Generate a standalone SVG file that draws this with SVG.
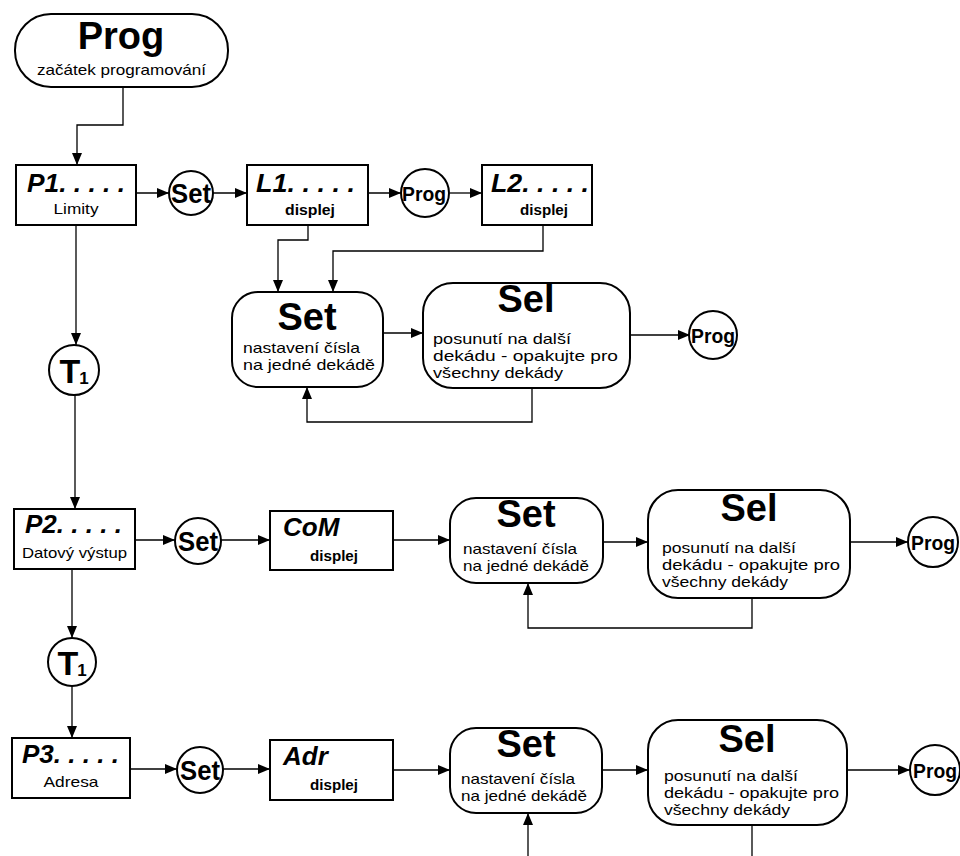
<svg xmlns="http://www.w3.org/2000/svg" width="960" height="856" viewBox="0 0 960 856">
<style>
text{font-family:"Liberation Sans",Arial,sans-serif;fill:#000}
.box{fill:#fff;stroke:#000;stroke-width:2}
.ln{fill:none;stroke:#000;stroke-width:1.3}
.big{font-weight:bold;font-size:38px;text-anchor:middle}
.ttl{font-weight:bold;font-style:italic;font-size:26px}
.sm{font-size:14.5px}
.smc{font-size:15px;text-anchor:middle}
.smb{font-size:15px;font-weight:bold;text-anchor:middle}
.cir{font-weight:bold;font-size:28px;text-anchor:middle}
.cirp{font-weight:bold;font-size:21px;text-anchor:middle}
</style>
<defs>
<marker id="a" markerUnits="userSpaceOnUse" markerWidth="13" markerHeight="11" refX="12" refY="5" orient="auto">
<path d="M0,0 L12,5 L0,10 z" fill="#000"/>
</marker>
</defs>
<rect width="960" height="856" fill="#fff"/>
<g id="connectors" class="ln" marker-end="url(#a)">
<polyline points="123,87 123,125 77,125 77,165"/>
<line x1="136" y1="193" x2="169" y2="193"/>
<line x1="213" y1="193" x2="247" y2="193"/>
<line x1="368" y1="193" x2="401" y2="193"/>
<line x1="450" y1="193" x2="482" y2="193"/>
<polyline points="308,225 308,240 278,240 278,292"/>
<polyline points="543,225 543,251 333,251 333,292"/>
<line x1="383" y1="333" x2="423" y2="333"/>
<line x1="630" y1="335" x2="690" y2="335"/>
<polyline points="532,388 532,422 307,422 307,387"/>
<line x1="76" y1="225" x2="76" y2="345"/>
<line x1="75" y1="395" x2="75" y2="509"/>
<line x1="135" y1="540" x2="175" y2="540"/>
<line x1="221" y1="540" x2="270" y2="540"/>
<line x1="393" y1="540" x2="450" y2="540"/>
<line x1="603" y1="542" x2="648" y2="542"/>
<line x1="850" y1="542" x2="908" y2="542"/>
<polyline points="752,598 752,628 528,628 528,583"/>
<line x1="72" y1="569" x2="72" y2="638"/>
<line x1="72" y1="686" x2="72" y2="738"/>
<line x1="130" y1="769" x2="177" y2="769"/>
<line x1="223" y1="769" x2="270" y2="769"/>
<line x1="393" y1="770" x2="450" y2="770"/>
<line x1="602" y1="770" x2="648" y2="770"/>
<line x1="847" y1="770" x2="910" y2="770"/>
<line x1="752" y1="825" x2="752" y2="856" marker-end="none"/>
<line x1="528" y1="856" x2="528" y2="813"/>
</g>
<g id="prog-start">
<rect class="box" x="15" y="14" width="213" height="73" rx="36"/>
<text class="big" x="121" y="49">Prog</text>
<text class="smc" x="121.5" y="75" textLength="169" lengthAdjust="spacingAndGlyphs">začátek programování</text>
</g>
<g id="p1">
<rect class="box" x="16" y="165" width="120" height="60"/>
<text class="ttl" x="27" y="192" textLength="98" lengthAdjust="spacingAndGlyphs">P1. . . . .</text>
<text class="smc" x="76" y="214" textLength="45" lengthAdjust="spacingAndGlyphs">Limity</text>
</g>
<g id="set-c1">
<circle class="box" cx="191" cy="193" r="22"/>
<text class="cir" x="191" y="203" textLength="40" lengthAdjust="spacingAndGlyphs">Set</text>
</g>
<g id="l1">
<rect class="box" x="247" y="165" width="121" height="60"/>
<text class="ttl" x="256" y="192" textLength="99" lengthAdjust="spacingAndGlyphs">L1. . . . .</text>
<text class="smb" x="310" y="215" textLength="50" lengthAdjust="spacingAndGlyphs">displej</text>
</g>
<g id="prog-c1">
<circle class="box" cx="425" cy="193" r="24"/>
<text class="cirp" x="424" y="201" textLength="44" lengthAdjust="spacingAndGlyphs">Prog</text>
</g>
<g id="l2">
<rect class="box" x="482" y="165" width="110" height="60"/>
<text class="ttl" x="491" y="192" textLength="98" lengthAdjust="spacingAndGlyphs">L2. . . . .</text>
<text class="smb" x="544" y="215" textLength="48" lengthAdjust="spacingAndGlyphs">displej</text>
</g>
<g id="set-box1">
<rect class="box" x="232" y="292" width="151" height="95" rx="26"/>
<text class="big" x="307" y="330">Set</text>
<text class="sm" x="243" y="353" textLength="117" lengthAdjust="spacingAndGlyphs">nastavení čísla</text>
<text class="sm" x="243" y="370" textLength="132" lengthAdjust="spacingAndGlyphs">na jedné dekádě</text>
</g>
<g id="sel-box1">
<rect class="box" x="423" y="283" width="207" height="105" rx="30"/>
<text class="big" x="526" y="312">Sel</text>
<text class="sm" x="433" y="344" textLength="138" lengthAdjust="spacingAndGlyphs">posunutí na další</text>
<text class="sm" x="433" y="361" textLength="185" lengthAdjust="spacingAndGlyphs">dekádu - opakujte pro</text>
<text class="sm" x="433" y="378" textLength="130" lengthAdjust="spacingAndGlyphs">všechny dekády</text>
</g>
<g id="prog-c2">
<circle class="box" cx="713" cy="335" r="24"/>
<text class="cirp" x="713" y="343" textLength="44" lengthAdjust="spacingAndGlyphs">Prog</text>
</g>
<g id="t1a">
<circle class="box" cx="74" cy="370" r="25"/>
<text x="70" y="383" font-weight="bold" font-size="34" text-anchor="middle">T</text>
<text x="84" y="384" font-weight="bold" font-size="17" text-anchor="middle">1</text>
</g>
<g id="p2">
<rect class="box" x="14" y="509" width="121" height="60"/>
<text class="ttl" x="25" y="533" textLength="97" lengthAdjust="spacingAndGlyphs">P2. . . . .</text>
<text class="smc" x="74.5" y="558" textLength="105" lengthAdjust="spacingAndGlyphs">Datový výstup</text>
</g>
<g id="set-c2">
<circle class="box" cx="198" cy="541" r="23"/>
<text class="cir" x="198" y="551" textLength="40" lengthAdjust="spacingAndGlyphs">Set</text>
</g>
<g id="com">
<rect class="box" x="270" y="511" width="123" height="59"/>
<text class="ttl" x="283" y="536">CoM</text>
<text class="smb" x="334" y="561" textLength="48" lengthAdjust="spacingAndGlyphs">displej</text>
</g>
<g id="set-box2">
<rect class="box" x="450" y="498" width="153" height="85" rx="26"/>
<text class="big" x="526" y="527">Set</text>
<text class="sm" x="463" y="554" textLength="114" lengthAdjust="spacingAndGlyphs">nastavení čísla</text>
<text class="sm" x="463" y="571" textLength="126" lengthAdjust="spacingAndGlyphs">na jedné dekádě</text>
</g>
<g id="sel-box2">
<rect class="box" x="648" y="490" width="202" height="108" rx="30"/>
<text class="big" x="749" y="521">Sel</text>
<text class="sm" x="662" y="553" textLength="134" lengthAdjust="spacingAndGlyphs">posunutí na další</text>
<text class="sm" x="662" y="570" textLength="178" lengthAdjust="spacingAndGlyphs">dekádu - opakujte pro</text>
<text class="sm" x="662" y="587" textLength="126" lengthAdjust="spacingAndGlyphs">všechny dekády</text>
</g>
<g id="prog-c3">
<circle class="box" cx="933" cy="542" r="25"/>
<text class="cirp" x="933" y="550" textLength="44" lengthAdjust="spacingAndGlyphs">Prog</text>
</g>
<g id="t1b">
<circle class="box" cx="72" cy="662" r="24"/>
<text x="68" y="675" font-weight="bold" font-size="34" text-anchor="middle">T</text>
<text x="82" y="676" font-weight="bold" font-size="17" text-anchor="middle">1</text>
</g>
<g id="p3">
<rect class="box" x="12" y="738" width="118" height="60"/>
<text class="ttl" x="22" y="763" textLength="97" lengthAdjust="spacingAndGlyphs">P3. . . . .</text>
<text class="smc" x="71" y="787" textLength="55" lengthAdjust="spacingAndGlyphs">Adresa</text>
</g>
<g id="set-c3">
<circle class="box" cx="200" cy="770" r="23"/>
<text class="cir" x="200" y="780" textLength="40" lengthAdjust="spacingAndGlyphs">Set</text>
</g>
<g id="adr">
<rect class="box" x="270" y="740" width="123" height="60"/>
<text class="ttl" x="283" y="765">Adr</text>
<text class="smb" x="334" y="790" textLength="48" lengthAdjust="spacingAndGlyphs">displej</text>
</g>
<g id="set-box3">
<rect class="box" x="450" y="728" width="152" height="85" rx="26"/>
<text class="big" x="526" y="757">Set</text>
<text class="sm" x="461" y="784" textLength="114" lengthAdjust="spacingAndGlyphs">nastavení čísla</text>
<text class="sm" x="461" y="801" textLength="126" lengthAdjust="spacingAndGlyphs">na jedné dekádě</text>
</g>
<g id="sel-box3">
<rect class="box" x="648" y="720" width="199" height="105" rx="30"/>
<text class="big" x="747" y="752">Sel</text>
<text class="sm" x="664" y="781" textLength="134" lengthAdjust="spacingAndGlyphs">posunutí na další</text>
<text class="sm" x="664" y="798" textLength="175" lengthAdjust="spacingAndGlyphs">dekádu - opakujte pro</text>
<text class="sm" x="664" y="815" textLength="126" lengthAdjust="spacingAndGlyphs">všechny dekády</text>
</g>
<g id="prog-c4">
<circle class="box" cx="935" cy="770" r="25"/>
<text class="cirp" x="935" y="778" textLength="44" lengthAdjust="spacingAndGlyphs">Prog</text>
</g>
</svg>
